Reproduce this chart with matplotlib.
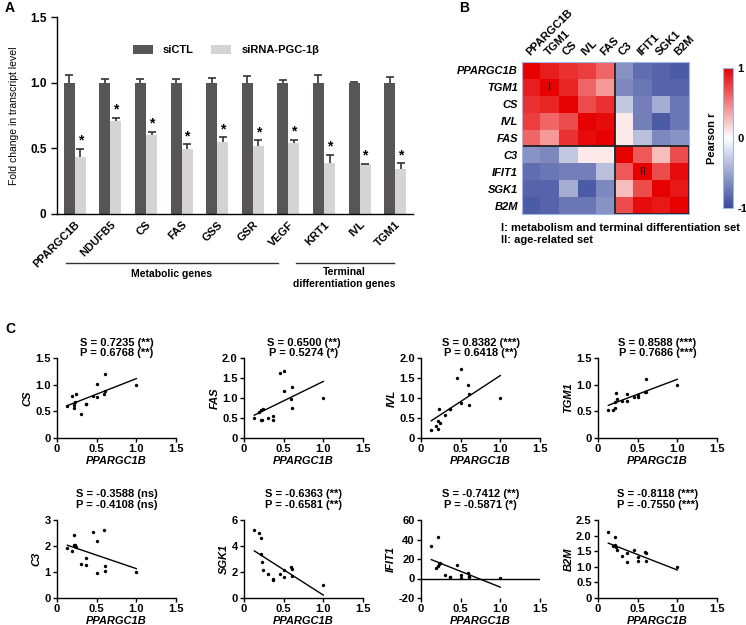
import numpy as np
import matplotlib
matplotlib.use('Agg')
import matplotlib.pyplot as plt
import matplotlib.transforms as mtransforms
from matplotlib.colors import LinearSegmentedColormap
from matplotlib.patches import Rectangle

plt.rcParams['font.family'] = ['Liberation Sans', 'DejaVu Sans']
plt.rcParams['font.weight'] = 'bold'
plt.rcParams['axes.titleweight'] = 'bold'
plt.rcParams['axes.labelweight'] = 'bold'
plt.rcParams['axes.linewidth'] = 1.0

# ---- panel A data ----
genes = ['PPARGC1B', 'NDUFB5', 'CS', 'FAS', 'GSS', 'GSR', 'VEGF', 'KRT1', 'IVL', 'TGM1']
ctl_mean = [1.0, 1.0, 1.0, 1.0, 1.0, 1.0, 1.0, 1.0, 1.0, 1.0]
ctl_err = [0.06, 0.025, 0.025, 0.028, 0.035, 0.05, 0.02, 0.06, 0.003, 0.04]
si_mean = [0.437, 0.708, 0.60, 0.495, 0.546, 0.518, 0.543, 0.39, 0.38, 0.34]
si_err = [0.06, 0.025, 0.027, 0.035, 0.038, 0.045, 0.022, 0.062, 0.003, 0.045]

# ---- panel B data ----
hm_genes = ['PPARGC1B', 'TGM1', 'CS', 'IVL', 'FAS', 'C3', 'IFIT1', 'SGK1', 'B2M']
pearson = [
    [1.00, 0.88, 0.80, 0.75, 0.60, -0.60, -0.80, -0.85, -0.90],
    [0.88, 1.00, 0.85, 0.60, 0.40, -0.65, -0.75, -0.85, -0.85],
    [0.80, 0.85, 1.00, 0.70, 0.80, -0.30, -0.70, -0.45, -0.75],
    [0.75, 0.60, 0.70, 1.00, 0.95, 0.08, -0.70, -0.90, -0.75],
    [0.60, 0.40, 0.80, 0.95, 1.00, 0.08, -0.35, -0.65, -0.60],
    [-0.60, -0.65, -0.30, 0.08, 0.08, 1.00, 0.65, 0.25, 0.70],
    [-0.80, -0.75, -0.70, -0.70, -0.35, 0.65, 1.00, 0.70, 0.95],
    [-0.85, -0.85, -0.45, -0.90, -0.65, 0.25, 0.70, 1.00, 0.90],
    [-0.90, -0.85, -0.75, -0.75, -0.60, 0.70, 0.95, 0.90, 1.00],
]

# ---- panel C data (x = PPARGC1B level per sample) ----
ppargc1b = [0.13, 0.19, 0.21, 0.22, 0.23, 0.24, 0.30, 0.36, 0.37, 0.45, 0.50, 0.50, 0.59, 0.60, 0.61, 1.00]
cs_vals = [0.60, 0.79, 0.57, 0.62, 0.68, 0.83, 0.45, 0.64, 0.63, 0.79, 1.01, 0.76, 0.82, 0.89, 1.20, 1.00]
fas_vals = [0.49, 0.65, 0.45, 0.70, 0.44, 0.72, 0.49, 0.54, 0.45, 1.62, 1.68, 1.17, 0.98, 0.75, 1.28, 1.00]
ivl_vals = [0.20, 0.30, 0.22, 0.42, 0.72, 0.38, 0.58, 0.72, 0.73, 1.50, 1.73, 0.88, 1.33, 0.83, 1.10, 1.00]
tgm1_vals = [0.52, 0.53, 0.56, 0.67, 0.85, 0.74, 0.70, 0.83, 0.70, 0.77, 0.77, 0.80, 0.86, 0.87, 1.11, 1.00]
c3_vals = [1.93, 1.80, 2.02, 2.43, 2.02, 1.98, 1.32, 1.55, 1.28, 2.53, 2.18, 0.97, 2.62, 1.23, 1.05, 1.00]
sgk1_vals = [5.23, 5.03, 4.60, 3.37, 2.76, 2.12, 1.84, 1.35, 1.45, 1.86, 1.58, 2.17, 2.37, 1.71, 2.24, 1.02]
ifit1_vals = [33.7, 10.5, 42.2, 12.9, 14.5, 16.3, 3.1, 2.0, 1.5, 14.0, 3.7, 1.0, 5.4, 3.0, 1.4, 1.0]
b2m_vals = [2.13, 1.68, 1.94, 1.71, 1.64, 1.53, 1.34, 1.45, 1.15, 1.53, 1.32, 1.20, 1.49, 1.20, 1.45, 1.00]

scatter_names = ['CS', 'FAS', 'IVL', 'TGM1', 'C3', 'SGK1', 'IFIT1', 'B2M']
scatter_vals = [cs_vals, fas_vals, ivl_vals, tgm1_vals, c3_vals, sgk1_vals, ifit1_vals, b2m_vals]
spearman_txt = ['0.7235 (**)', '0.6500 (**)', '0.8382 (***)', '0.8588 (***)',
                '-0.3588 (ns)', '-0.6363 (**)', '-0.7412 (**)', '-0.8118 (***)']
pearson_txt = ['0.6768 (**)', '0.5274 (*)', '0.6418 (**)', '0.7686 (***)',
               '-0.4108 (ns)', '-0.6581 (**)', '-0.5871 (*)', '-0.7550 (***)']
y_ticks = [[0, 0.5, 1.0, 1.5], [0, 0.5, 1.0, 1.5, 2.0], [0, 0.5, 1.0, 1.5, 2.0], [0, 0.5, 1.0, 1.5],
           [0, 1, 2, 3], [0, 2, 4, 6], [-20, 0, 20, 40, 60], [0, 0.5, 1.0, 1.5, 2.0, 2.5]]

W, H = 746, 625
fig = plt.figure(figsize=(W / 100, H / 100), dpi=100)


def px_axes(left, top, right, bottom):
    return fig.add_axes([left / W, 1 - bottom / H, (right - left) / W, (bottom - top) / H])


dark = '#575555'
light = '#d4d4d4'

# ================= A =================
ax = px_axes(57, 17, 413, 214)
x = np.arange(len(genes))
w = 0.31
ax.bar(x - w / 2, ctl_mean, width=w, color=dark, label='siCTL', zorder=2)
ax.bar(x + w / 2, si_mean, width=w, color=light, label='siRNA-PGC-1β', zorder=2)
for xpos, means, errs in [(x - w / 2, ctl_mean, ctl_err), (x + w / 2, si_mean, si_err)]:
    eb = ax.errorbar(xpos, means, yerr=[np.zeros(len(genes)), errs], fmt='none',
                     ecolor='#333333', elinewidth=1.2, capsize=3, capthick=1.2, zorder=3)
    eb[1][0].set_visible(False)  # keep only the upper cap
for xi, m, e in zip(x, si_mean, si_err):
    ax.text(xi + w / 2, m + e + 0.06, '*', ha='center', va='center', fontsize=10, fontweight='bold')
ax.set_xlim(-0.5, 9.5)
ax.set_ylim(0, 1.5)
ax.set_yticks([0, 0.5, 1.0, 1.5])
ax.set_yticklabels(['0', '0.5', '1.0', '1.5'], fontsize=8.5, fontweight='bold')
ax.set_xticks(x)
ax.set_xticklabels(genes, rotation=45, ha='right', rotation_mode='anchor', fontsize=8, fontweight='bold')
ax.tick_params(axis='x', length=0, pad=4)
ax.tick_params(axis='y', length=4, width=1)
ax.spines[['top', 'right']].set_visible(False)
ax.set_ylabel('Fold change in transcript level', fontsize=7.5, fontweight='normal', labelpad=8)
ax.legend(loc='center left', bbox_to_anchor=(0.213, 0.832), ncol=2, frameon=False,
          prop={'size': 8, 'weight': 'bold'},
          handlelength=1.8, handleheight=0.9, handletextpad=0.9, columnspacing=1.6,
          borderpad=0, borderaxespad=0)

tr = mtransforms.blended_transform_factory(ax.transData, ax.transAxes)
ax.plot([-0.25, 5.7], [-0.249, -0.249], color='#333333', lw=1, transform=tr, clip_on=False)
ax.plot([6.2, 8.97], [-0.249, -0.249], color='#333333', lw=1, transform=tr, clip_on=False)
ax.text(2.73, -0.305, 'Metabolic genes', ha='center', va='center', fontsize=7.5,
        fontweight='bold', transform=tr)
ax.text(7.58, -0.27, 'Terminal\ndifferentiation genes', ha='center', va='top', fontsize=7.5,
        fontweight='bold', linespacing=1.2, transform=tr)

# ================= B =================
cmap = LinearSegmentedColormap.from_list('bwr_fig', ['#3a4a9d', '#ffffff', '#e60000'])
axh = px_axes(522, 62, 689, 214)
im = axh.imshow(np.array(pearson), cmap=cmap, vmin=-1, vmax=1, aspect='auto')
axh.set_xticks(range(len(hm_genes)))
axh.set_yticks(range(len(hm_genes)))
axh.xaxis.tick_top()
axh.set_xticklabels(hm_genes, rotation=45, ha='left', rotation_mode='anchor', fontsize=8, fontweight='bold')
axh.set_yticklabels(hm_genes, fontsize=8, fontstyle='italic', fontweight='bold')
axh.tick_params(length=0, pad=3)
for s in axh.spines.values():
    s.set_color('#9db8e6')
    s.set_linewidth(0.8)
axh.add_patch(Rectangle((-0.5, -0.5), 5, 5, fill=False, ec='#222222', lw=1.3))
axh.add_patch(Rectangle((4.5, 4.5), 4, 4, fill=False, ec='#222222', lw=1.3))
axh.text(1, 1, 'I', ha='center', va='center', fontsize=8, fontweight='normal')
axh.text(6, 6, 'II', ha='center', va='center', fontsize=8, fontweight='normal')

cax = px_axes(723, 68, 733, 208)
cb = fig.colorbar(im, cax=cax, ticks=[-1, 0, 1])
cb.ax.set_yticklabels(['-1', '0', '1'], fontsize=8, fontweight='bold')
cb.ax.tick_params(length=0, pad=3)
cb.outline.set_edgecolor('#9db8e6')
cb.outline.set_linewidth(0.8)
fig.text(712 / W, 1 - 138 / H, 'Pearson r', rotation=90, ha='center', va='center',
         fontsize=8, fontweight='bold')

fig.text(501 / W, 1 - 228 / H, 'I: metabolism and terminal differentiation set', fontsize=8,
         fontweight='bold', va='center')
fig.text(501 / W, 1 - 240 / H, 'II: age-related set', fontsize=8, fontweight='bold', va='center')

# ================= C =================
lefts = [57, 244, 421, 598]
rows = [(358, 438, 1), (520, 598, 9)]
xs = np.array(ppargc1b)
for i, (name, vals) in enumerate(zip(scatter_names, scatter_vals)):
    top, bottom, pad = rows[i // 4]
    left = lefts[i % 4]
    a = px_axes(left, top, left + 119, bottom)
    ys = np.array(vals)
    a.scatter(xs, ys, s=6, color='black', zorder=3, linewidths=0)
    k, b = np.polyfit(xs, ys, 1)
    xl = np.array([xs.min(), xs.max()])
    a.plot(xl, k * xl + b, color='black', lw=1)
    yt = y_ticks[i]
    a.set_xlim(0, 1.5)
    a.set_ylim(yt[0], yt[-1])
    a.set_xticks([0, 0.5, 1.0, 1.5])
    a.set_xticklabels(['0', '0.5', '1.0', '1.5'], fontsize=8, fontweight='bold')
    a.set_yticks(yt)
    if all(float(t).is_integer() for t in yt):
        a.set_yticklabels([str(int(t)) for t in yt], fontsize=8, fontweight='bold')
    else:
        a.set_yticklabels(['0' if t == 0 else f'{t:.1f}' for t in yt], fontsize=8, fontweight='bold')
    a.tick_params(length=3, width=1, pad=1.5)
    a.spines[['top', 'right']].set_visible(False)
    if yt[0] < 0:
        a.spines['bottom'].set_visible(False)
        a.axhline(0, color='black', lw=1)
    a.set_xlabel('PPARGC1B', fontsize=8, fontstyle='italic', fontweight='bold', labelpad=1)
    a.set_ylabel(name, fontsize=8, fontstyle='italic', fontweight='bold', labelpad=2)
    a.set_title(f'S = {spearman_txt[i]}\nP = {pearson_txt[i]}', fontsize=8, fontweight='bold',
                pad=pad, linespacing=1.05)

fig.text(5 / W, 1 - 8 / H, 'A', fontsize=10, fontweight='bold', va='center')
fig.text(459 / W, 1 - 8 / H, 'B', fontsize=10, fontweight='bold', va='center')
fig.text(5 / W, 1 - 329 / H, 'C', fontsize=10, fontweight='bold', va='center')

fig.savefig('out.png', dpi=100)
